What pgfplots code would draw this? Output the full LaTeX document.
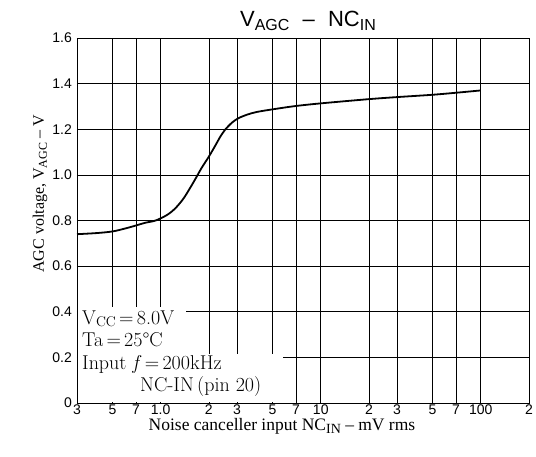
\documentclass[border=0pt]{standalone}
\usepackage{fontspec}
\usepackage{pgfplots}
\pgfplotsset{compat=1.18}
\newfontfamily\hel{Liberation Sans}
\newfontfamily\tms{Liberation Serif}
\pgfplotstableread{
x y
0.3 0.74
0.4 0.745
0.5 0.752
0.6 0.765
0.7 0.778
0.8 0.79
0.93 0.80
1.1 0.825
1.24 0.855
1.4 0.90
1.61 0.97
1.8 1.03
2.0 1.08
2.2 1.13
2.36 1.168
2.54 1.20
2.8 1.23
3.07 1.249
3.5 1.265
4.0 1.276
5.08 1.288
7.0 1.302
10.2 1.314
20 1.332
30 1.341
49.6 1.351
70 1.36
99.5 1.37
}\curve
\begin{document}
\begin{tikzpicture}[x=1pt,y=1pt]
\useasboundingbox (0,0) rectangle (536,456);
\begin{axis}[
  at={(77pt,53pt)}, anchor=south west,
  width=452pt, height=365pt, scale only axis,
  xmode=log, xmin=0.3, xmax=200, ymin=0, ymax=1.6,
  xtick={0.3,0.5,0.7,1,2,3,5,7,10,20,30,50,70,100,200},
  xticklabels={3,5,7,1.0,2,3,5,7,10,2,3,5,7,100,2},
  ytick={0,0.2,0.4,0.6,0.8,1.0,1.2,1.4,1.6},
  yticklabels={0,0.2,0.4,0.6,0.8,1.0,1.2,1.4,1.6},
  minor xtick={}, minor ytick={},
  grid=major, major grid style={black, line width=0.7pt},
  major tick length=0pt,
  axis line style={black, line width=0.9pt},
  tick label style={font=\hel\fontsize{14}{14}\selectfont, inner sep=2pt},
  yticklabel style={xshift=-3pt},
  clip=false,
]
\fill[white] ([shift={(0.6pt,0.6pt)}]axis cs:0.3,0) rectangle (axis cs:1.43,0.42);
\fill[white] ([shift={(0.6pt,0.6pt)}]axis cs:0.3,0) rectangle (axis cs:5.8,0.215);
\addplot[black, line width=1.8pt, smooth] table[x=x,y=y] {\curve};
\end{axis}
\node[anchor=west, inner sep=0] at (82,137) {\fontsize{20}{20}\selectfont V\raisebox{-0.3ex}{\fontsize{14}{14}\selectfont CC}\,=\,8.0V};
\node[anchor=west, inner sep=0] at (82,116) {\fontsize{20}{20}\selectfont Ta\,=\,25°C};
\node[anchor=west, inner sep=0] at (82,92) {\fontsize{20}{20}\selectfont Input \textit{f}\,=\,200kHz};
\node[anchor=west, inner sep=0] at (140,69) {\fontsize{20}{20}\selectfont NC-IN\,(pin 20)};
\node at (282,30) {\tms\fontsize{17.5}{18}\selectfont Noise canceller input NC\raisebox{-0.4ex}{\fontsize{14}{14}\selectfont IN} \textendash{} mV rms};
\node[rotate=90] at (40,262) {\tms\fontsize{16}{16}\selectfont AGC voltage, V\raisebox{-0.4ex}{\fontsize{12}{12}\selectfont AGC} \textendash{} V};
\node at (308,435) {\hel\fontsize{22}{22}\selectfont V\raisebox{-0.4ex}{\fontsize{16}{16}\selectfont AGC}\hspace{0.6em}\textendash\hspace{0.6em}NC\raisebox{-0.4ex}{\fontsize{16}{16}\selectfont IN}};
\end{tikzpicture}
\end{document}
